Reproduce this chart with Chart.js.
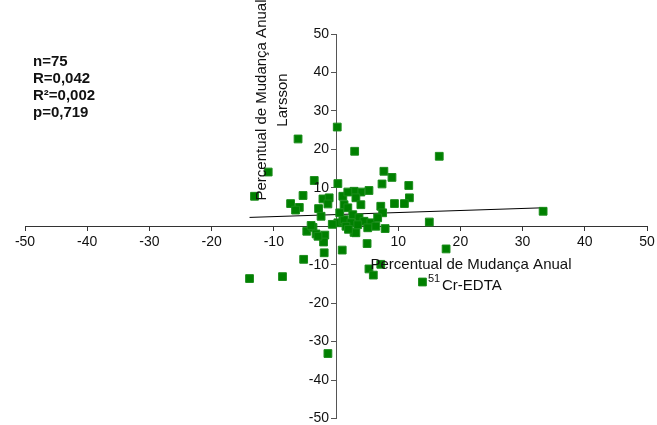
<!DOCTYPE html>
<html>
<head>
<meta charset="utf-8">
<script src="https://cdn.jsdelivr.net/npm/chart.js@4.4.1/dist/chart.umd.min.js"></script>
<style>
  html, body { margin: 0; padding: 0; background: #fff; }
  #wrap { width: 657px; height: 425px; }
</style>
</head>
<body>
<div id="wrap"><canvas id="scatter" width="657" height="425"></canvas></div>
<script>
// annual change (%) - 51Cr-EDTA on x, Larsson on y
var crEdta = [
    0.2, -6.1, -10.9, -13.1, -3.5, 0.3, -5.3, -7.3, -5.9, -6.5,
    -2.1, -1.1, -1.3, -2.8, -2.4, 1.1, 0.3, 1.1, -4.7, -3.7,
    -3.2, -1.8, -2.0, -1.9, -5.2, -8.6, -13.9, 1.0, -1.3, 2.9,
    7.7, 9.0, 7.4, 11.7, 11.8, 11.0, 9.4, 7.2, 7.5, 5.3,
    4.0, 2.9, 1.9, 3.2, 4.0, 1.3, 1.9, 2.7, 3.7, 4.5,
    5.6, 6.7, 1.3, 2.4, 3.5, 1.6, 3.2, 5.1, 6.4, 7.9,
    5.0, 5.3, 6.0, 7.2, 15.0, 3.0, 16.6, 33.3, 17.7, 13.9,
    -4.0, -2.9, 0.6, 2.0, -0.6
];
var larsson = [
    25.8, 22.7, 14.1, 7.8, 11.9, 11.1, 8.0, 5.9, 4.9, 4.2,
    7.1, 7.4, 5.8, 4.6, 2.6, 7.8, 0.9, 1.3, -1.3, -0.3,
    -2.0, -2.3, -4.1, -6.9, -8.6, -13.1, -13.6, -6.2, -33.1, -1.6,
    14.3, 12.7, 11.0, 10.6, 7.4, 5.9, 5.9, 5.2, 3.5, 9.3,
    8.9, 9.1, 8.9, 7.4, 5.6, 5.6, 4.8, 3.0, 2.2, 1.3,
    0.9, 2.2, 1.7, 0.9, 0.4, 0.0, -1.7, -0.4, 0.0, -0.6,
    -4.5, -11.1, -12.7, -9.9, 1.1, 19.5, 18.2, 3.9, -5.9, -14.5,
    0.2, -2.6, 3.5, -0.8, 0.5
];
// fitted line end points
var fitX = [-13.9, 33.3];
var fitY = [2.3, 4.8];

var statsText = ['n=75', 'R=0,042', 'R\u00b2=0,002', 'p=0,719'];
var xTicks = [-50, -40, -30, -20, -10, 0, 10, 20, 30, 40, 50];
var yTicks = [-50, -40, -30, -20, -10, 0, 10, 20, 30, 40, 50];

var points = crEdta.map(function(x, i) { return { x: x, y: larsson[i] }; });
var fitLine = fitX.map(function(x, i) { return { x: x, y: fitY[i] }; });

var FONT = 'Liberation Sans, Arial, sans-serif';

var textPlugin = {
    id: 'labels',
    afterDraw: function(chart) {
        var ctx = chart.ctx;
        var sx = chart.scales.x, sy = chart.scales.y;
        var x0 = sx.getPixelForValue(0), y0 = sy.getPixelForValue(0);
        ctx.save();
        ctx.fillStyle = '#111';
        // tick labels (axes cross at the origin, 0 is not labelled)
        ctx.font = '14px ' + FONT;
        ctx.textBaseline = 'middle';
        ctx.textAlign = 'center';
        xTicks.forEach(function(v) {
            if (v !== 0) ctx.fillText(v, sx.getPixelForValue(v), y0 + 16);
        });
        ctx.textAlign = 'right';
        yTicks.forEach(function(v) {
            if (v !== 0) ctx.fillText(v, x0 - 7, sy.getPixelForValue(v));
        });
        // stats box
        ctx.font = 'bold 15px ' + FONT;
        ctx.textAlign = 'left';
        statsText.forEach(function(t, i) {
            ctx.fillText(t, 33, 62 + i * 17);
        });
        ctx.font = '15px ' + FONT;
        ctx.textAlign = 'center';
        // y title
        ctx.save();
        ctx.translate(262, 100);
        ctx.rotate(-Math.PI / 2);
        ctx.fillText('Percentual de Mudan\u00e7a Anual', 0, 0);
        ctx.fillText('Larsson', 0, 21);
        ctx.restore();
        // x title
        ctx.fillText('Percentual de Mudan\u00e7a Anual', 471, 265);
        ctx.textAlign = 'left';
        ctx.font = '11px ' + FONT;
        ctx.fillText('51', 428, 279);
        ctx.font = '15px ' + FONT;
        ctx.fillText('Cr-EDTA', 442, 286);
        ctx.restore();
    }
};

var config = {
    type: 'scatter',
    data: {
        datasets: [{
            data: points,
            pointStyle: 'rect',
            pointRadius: 5.5,
            borderWidth: 1,
            backgroundColor: '#008000',
            borderColor: '#1a8c1a',
            order: 1
        }, {
            type: 'line',
            data: fitLine,
            borderColor: '#000',
            borderWidth: 1,
            pointRadius: 0,
            fill: false,
            order: 2
        }]
    },
    options: {
        responsive: false,
        animation: false,
        layout: { padding: { left: 25, right: 10, top: 34, bottom: 4 } },
        plugins: {
            legend: { display: false },
            tooltip: { enabled: false }
        },
        scales: {
            x: {
                type: 'linear',
                position: { y: 0 },
                min: -50,
                max: 50,
                afterBuildTicks: function(s) { s.ticks = xTicks.map(function(v) { return { value: v }; }); },
                grid: { drawOnChartArea: false, tickLength: 4, color: '#333' },
                border: { color: '#333', width: 1 },
                ticks: { display: false }
            },
            y: {
                type: 'linear',
                position: { x: 0 },
                min: -50,
                max: 50,
                afterBuildTicks: function(s) { s.ticks = yTicks.map(function(v) { return { value: v }; }); },
                grid: { drawOnChartArea: false, tickLength: 5, color: '#555' },
                border: { color: '#555', width: 1 },
                ticks: { display: false }
            }
        }
    },
    plugins: [textPlugin]
};

window.onload = function() {
    var ctx = document.getElementById('scatter').getContext('2d');
    window.myScatter = new Chart(ctx, config);
};
</script>
</body>
</html>
